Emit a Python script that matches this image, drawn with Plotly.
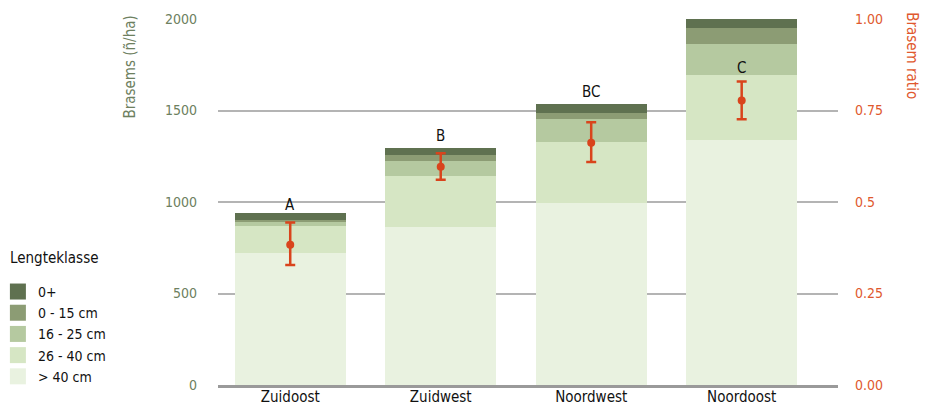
import plotly.graph_objects as go

regions = ["Zuidoost", "Zuidwest", "Noordwest", "Noordoost"]
classes = ["> 40 cm", "26 - 40 cm", "16 - 25 cm", "0 - 15 cm", "0+"]
gt40 = [723, 863, 995, 1339]
c26_40 = [148, 279, 333, 355]
c16_25 = [20, 82, 126, 169]
c0_15 = [11, 33, 34, 87]
c0plus = [37, 38, 48, 49]
series = [gt40, c26_40, c16_25, c0_15, c0plus]
colors = ["#e9f2e0", "#d6e6c4", "#b5c9a0", "#8c9c74", "#5f7150"]

ratio = [0.383, 0.596, 0.662, 0.777]
ratio_hi = [0.444, 0.633, 0.718, 0.829]
ratio_lo = [0.328, 0.561, 0.609, 0.726]

letters = ["A", "B", "BC", "C"]
letter_y = [984, 1361, 1601, 1732]

left_ticks = [0, 500, 1000, 1500, 2000]
right_tickvals = [0, 0.25, 0.5, 0.75, 1.0]
right_ticktext = ["0.00", "0.25", "0.5", "0.75", "1.00"]

FONT = "DejaVu Sans Condensed, Liberation Sans Narrow, sans-serif"
GREEN_TXT = "#6d8060"
RED = "#d9441c"
RED_TXT = "#e0582e"

fig = go.Figure()
for name, vals, col in zip(classes, series, colors):
    fig.add_trace(go.Bar(x=regions, y=vals, name=name, legendgroup=name, showlegend=False,
                         marker=dict(color=col, line=dict(width=0)), width=0.74))
    # legend-only entry with a larger square swatch
    fig.add_trace(go.Scatter(x=[None], y=[None], name=name, legendgroup=name, mode="markers",
                             marker=dict(symbol="square", size=16, color=col)))

fig.add_trace(go.Scatter(
    x=regions, y=ratio, yaxis="y2", mode="markers", showlegend=False,
    marker=dict(color=RED, size=8),
    error_y=dict(type="data", symmetric=False,
                 array=[h - r for h, r in zip(ratio_hi, ratio)],
                 arrayminus=[r - l for r, l in zip(ratio, ratio_lo)],
                 color=RED, thickness=2.5, width=5),
))

for reg, let, ly in zip(regions, letters, letter_y):
    fig.add_annotation(x=reg, y=ly, text=let, showarrow=False, xref="x", yref="y",
                       font=dict(family=FONT, size=15, color="#111111"))

fig.add_annotation(x=-0.142, y=1.016, xref="paper", yref="paper", text="Brasems (ñ/ha)",
                   textangle=-90, showarrow=False, xanchor="center", yanchor="top",
                   font=dict(family=FONT, size=15, color=GREEN_TXT))
fig.add_annotation(x=1.118, y=1.025, xref="paper", yref="paper", text="Brasem ratio",
                   textangle=90, showarrow=False, xanchor="center", yanchor="top",
                   font=dict(family=FONT, size=15, color=RED_TXT))
fig.add_annotation(x=-0.339, y=0.347, xref="paper", yref="paper", text="Lengteklasse",
                   showarrow=False, xanchor="left", yanchor="middle",
                   font=dict(family=FONT, size=15, color="#111111"))

# the page body has an 8px margin, so the figure is sized 8px smaller in each direction
fig.update_layout(
    width=920, height=397,
    margin=dict(l=210, r=90, t=11, b=20, autoexpand=False),
    barmode="stack", bargap=0.26,
    plot_bgcolor="white", paper_bgcolor="white",
    font=dict(family=FONT, size=15, color="#111111"),
    showlegend=True,
    legend=dict(x=-0.355, y=0.298, xanchor="left", yanchor="top", traceorder="reversed",
                font=dict(family=FONT, size=14, color="#111111"),
                itemwidth=30, tracegroupgap=0, bgcolor="rgba(0,0,0,0)"),
    xaxis=dict(range=[-0.48, 3.64], showgrid=False, showline=True, linecolor="#9a9a9a", linewidth=2.5,
               ticks="", automargin=False, ticklabelstandoff=-4,
               tickfont=dict(family=FONT, size=15, color="#111111")),
    yaxis=dict(range=[0, 2000], tickvals=left_ticks, showgrid=True, gridcolor="#b4b4b4", gridwidth=1.5,
               zeroline=False, ticks="", ticklabelstandoff=20, automargin=False,
               tickfont=dict(family=FONT, size=14, color=GREEN_TXT)),
    yaxis2=dict(range=[0, 1], overlaying="y", side="right", tickvals=right_tickvals,
                ticktext=right_ticktext, showgrid=False, zeroline=False, ticks="",
                ticklabelstandoff=16, automargin=False,
                tickfont=dict(family=FONT, size=14, color=RED_TXT)),
)

fig.write_html("out.html")
